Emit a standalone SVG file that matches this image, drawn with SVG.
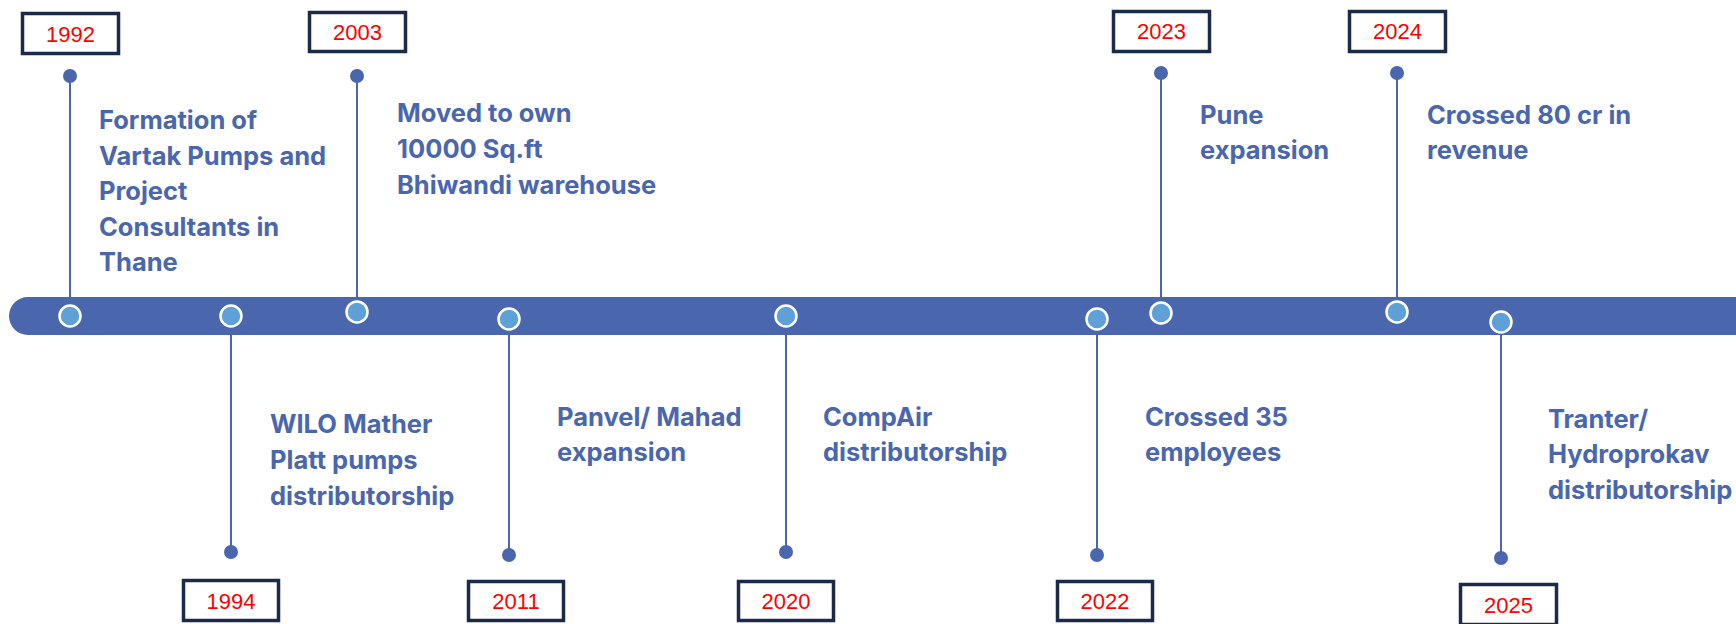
<svg xmlns="http://www.w3.org/2000/svg" width="1736" height="624" viewBox="0 0 1736 624">
<style>
.bar{fill:#4a67ad}
.conn{stroke:#4a67ad;stroke-width:2;fill:none}
.dot{fill:#4a67ad}
.node{fill:#5fa0d6;stroke:#ffffff;stroke-width:2.5}
.box{fill:#ffffff;stroke:#1c2a4a;stroke-width:3.5}
.year{font-family:"Liberation Sans",Arial,sans-serif;font-size:22px;fill:#ff0000;text-anchor:middle}
.desc{font-family:Inter,"Noto Sans",sans-serif;font-weight:700;font-size:25.5px;fill:#4a66ac}
</style>
<rect width="1736" height="624" fill="#ffffff"/>
<path class="bar" d="M28 297 H1736 V335 H28 A19 19 0 0 1 28 297 Z"/>
<g id="connectors">
<line class="conn" x1="70" y1="76" x2="70" y2="316"/>
<line class="conn" x1="231" y1="316" x2="231" y2="552"/>
<line class="conn" x1="357" y1="76" x2="357" y2="312"/>
<line class="conn" x1="509" y1="319" x2="509" y2="555"/>
<line class="conn" x1="786" y1="316" x2="786" y2="552"/>
<line class="conn" x1="1097" y1="319" x2="1097" y2="555"/>
<line class="conn" x1="1161" y1="73" x2="1161" y2="313"/>
<line class="conn" x1="1397" y1="73" x2="1397" y2="312"/>
<line class="conn" x1="1501" y1="322" x2="1501" y2="558"/>
</g>
<g id="n1992">
<rect class="box" x="22.5" y="13.5" width="96" height="40"/>
<text class="year" x="70.5" y="42">1992</text>
<circle class="dot" cx="70" cy="76" r="7"/>
<circle class="node" cx="70" cy="316" r="10.5"/>
<text class="desc"><tspan x="99" y="129">Formation of</tspan><tspan x="99" y="165">Vartak Pumps and</tspan><tspan x="99" y="200">Project</tspan><tspan x="99" y="236">Consultants in</tspan><tspan x="99" y="271">Thane</tspan></text>
</g>
<g id="n1994">
<rect class="box" x="183.5" y="580.5" width="95" height="40"/>
<text class="year" x="231" y="609">1994</text>
<circle class="dot" cx="231" cy="552" r="7"/>
<circle class="node" cx="231" cy="316" r="10.5"/>
<text class="desc"><tspan x="270" y="433">WILO Mather</tspan><tspan x="270" y="469">Platt pumps</tspan><tspan x="270" y="505">distributorship</tspan></text>
</g>
<g id="n2003">
<rect class="box" x="309.5" y="12.5" width="96" height="39"/>
<text class="year" x="357.5" y="40">2003</text>
<circle class="dot" cx="357" cy="76" r="7"/>
<circle class="node" cx="357" cy="312" r="10.5"/>
<text class="desc"><tspan x="397" y="122">Moved to own</tspan><tspan x="397" y="158">10000 Sq.ft</tspan><tspan x="397" y="194">Bhiwandi warehouse</tspan></text>
</g>
<g id="n2011">
<rect class="box" x="468.5" y="581.5" width="95" height="39"/>
<text class="year" x="516" y="609">2011</text>
<circle class="dot" cx="509" cy="555" r="7"/>
<circle class="node" cx="509" cy="319" r="10.5"/>
<text class="desc"><tspan x="557" y="426">Panvel/ Mahad</tspan><tspan x="557" y="461">expansion</tspan></text>
</g>
<g id="n2020">
<rect class="box" x="738.5" y="581.5" width="95" height="39"/>
<text class="year" x="786" y="609">2020</text>
<circle class="dot" cx="786" cy="552" r="7"/>
<circle class="node" cx="786" cy="316" r="10.5"/>
<text class="desc"><tspan x="823" y="426">CompAir</tspan><tspan x="823" y="461">distributorship</tspan></text>
</g>
<g id="n2022">
<rect class="box" x="1057.5" y="581.5" width="95" height="39"/>
<text class="year" x="1105" y="609">2022</text>
<circle class="dot" cx="1097" cy="555" r="7"/>
<circle class="node" cx="1097" cy="319" r="10.5"/>
<text class="desc"><tspan x="1145" y="426">Crossed 35</tspan><tspan x="1145" y="461">employees</tspan></text>
</g>
<g id="n2023">
<rect class="box" x="1113.5" y="11.5" width="96" height="40"/>
<text class="year" x="1161.5" y="39">2023</text>
<circle class="dot" cx="1161" cy="73" r="7"/>
<circle class="node" cx="1161" cy="313" r="10.5"/>
<text class="desc"><tspan x="1200" y="124">Pune</tspan><tspan x="1200" y="159">expansion</tspan></text>
</g>
<g id="n2024">
<rect class="box" x="1349.5" y="11.5" width="96" height="40"/>
<text class="year" x="1397.5" y="39">2024</text>
<circle class="dot" cx="1397" cy="73" r="7"/>
<circle class="node" cx="1397" cy="312" r="10.5"/>
<text class="desc"><tspan x="1427" y="124">Crossed 80 cr in</tspan><tspan x="1427" y="159">revenue</tspan></text>
</g>
<g id="n2025">
<rect class="box" x="1460.5" y="584.5" width="96" height="40"/>
<text class="year" x="1508.5" y="613">2025</text>
<circle class="dot" cx="1501" cy="558" r="7"/>
<circle class="node" cx="1501" cy="322" r="10.5"/>
<text class="desc"><tspan x="1548" y="428">Tranter/</tspan><tspan x="1548" y="463">Hydroprokav</tspan><tspan x="1548" y="499">distributorship</tspan></text>
</g>
</svg>
